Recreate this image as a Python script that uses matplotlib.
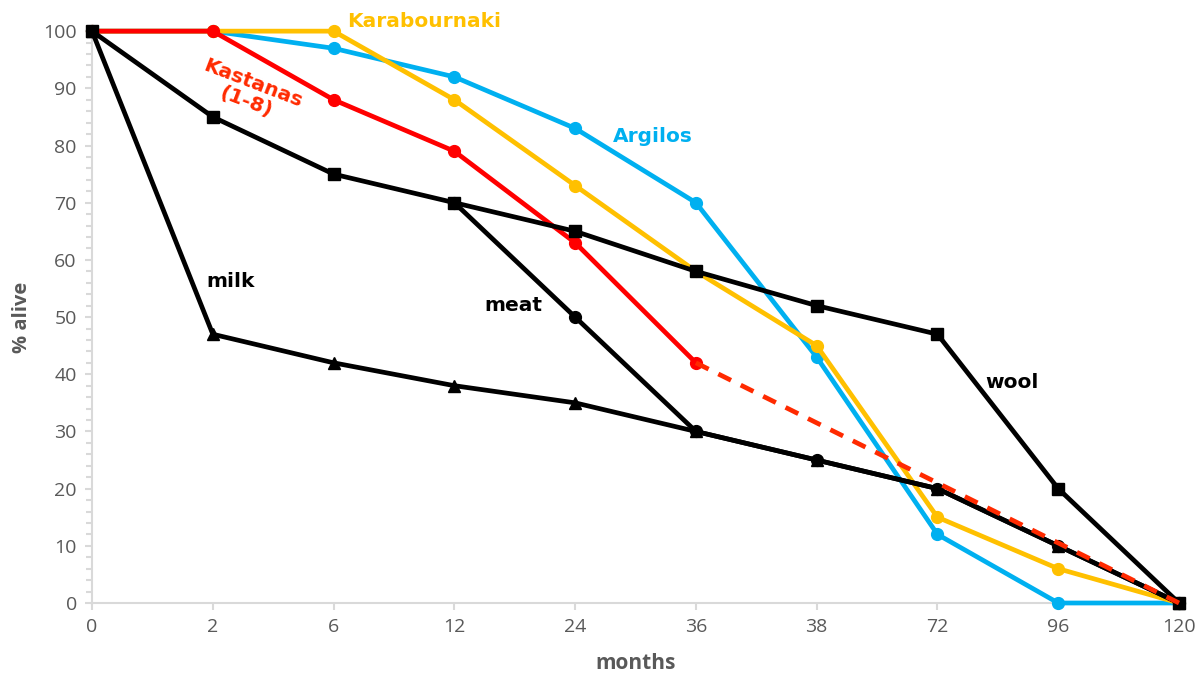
import matplotlib
matplotlib.use("Agg")
from matplotlib import pyplot as plt
import numpy as np

months = ["0", "2", "6", "12", "24", "36", "38", "72", "96", "120"]

argilos = [100, 100, 97, 92, 83, 70, 43, 12, 0, 0]
karabournaki = [100, 100, 100, 88, 73, 58, 45, 15, 6, 0]
kastanas = [100, 100, 88, 79, 63, 42]
kastanas_ext = [42, 0]          # dashed continuation 36 -> 120
milk = [100, 47, 42, 38, 35, 30, 25, 20, 10, 0]
meat = [70, 50, 30, 25, 20, 10, 0]   # from 12 months on
wool = [100, 85, 75, 70, 65, 58, 52, 47, 20, 0]

BLUE, YELLOW, RED = "#00B0F0", "#FFC000", "#FF0000"
GREY = "#595959"
x = np.arange(len(months))

fig = plt.figure(figsize=(12, 6.77), dpi=100)
ax = fig.add_axes([0.0767, 0.1093, 0.9058, 0.8447])

lw = 3.4
ax.plot(x, argilos, color=BLUE, lw=lw, marker="o", ms=8.5, clip_on=False, zorder=3)
ax.plot(x, karabournaki, color=YELLOW, lw=lw, marker="o", ms=8.5, clip_on=False, zorder=4)
ax.plot(x[:6], kastanas, color=RED, lw=lw, marker="o", ms=8.5, clip_on=False, zorder=5)
ax.plot(x, milk, color="black", lw=lw, marker="^", ms=8.5, clip_on=False, zorder=6)
ax.plot(x[3:], meat, color="black", lw=lw, marker="o", ms=8.5, clip_on=False, zorder=6)
ax.plot(x, wool, color="black", lw=lw, marker="s", ms=9, clip_on=False, zorder=7)
ax.plot([x[5], x[-1]], kastanas_ext, color="#FF2A00", lw=lw, ls=(0, (3, 2.3)),
        clip_on=False, zorder=8)

ax.set_xlim(0, 9)
ax.set_ylim(0, 100)
ax.set_xticks(x)
ax.set_xticklabels(months)
ax.set_yticks(np.arange(0, 101, 10))
ax.set_yticks(np.arange(0, 101, 2), minor=True)

for s in ["top", "right"]:
    ax.spines[s].set_visible(False)
for s in ["left", "bottom"]:
    ax.spines[s].set_color("#d9d9d9")
    ax.spines[s].set_linewidth(1.5)
ax.tick_params(axis="both", which="major", color="#d9d9d9", width=1.5, length=5,
               labelsize=14, labelcolor=GREY, pad=6)
ax.tick_params(axis="y", which="minor", color="#d9d9d9", width=1.5, length=4)
ax.tick_params(axis="x", which="minor", length=0)
for lab in ax.get_xticklabels() + ax.get_yticklabels():
    lab.set_fontfamily("Open Sans")

ax.set_ylabel("% alive", fontsize=14.5, color=GREY, fontweight="bold", labelpad=8, fontfamily="Open Sans")
ax.set_xlabel("months", fontsize=15, color=GREY, fontweight="bold", labelpad=12, fontfamily="Open Sans")

lbl = dict(fontsize=14.5, fontweight="bold", fontfamily="DejaVu Sans")
ax.text(2.11, 101.7, "Karabournaki", color=YELLOW, ha="left", va="center", **lbl)
ax.text(1.3, 89.2, "Kastanas\n(1-8)", color="#FF2A00", ha="center", va="center",
        rotation=-21, linespacing=1.0, **lbl)
ax.text(4.64, 81.6, "Argilos", color=BLUE, ha="center", va="center", **lbl)
ax.text(1.15, 56.3, "milk", color="black", ha="center", va="center", **lbl)
ax.text(3.49, 52.1, "meat", color="black", ha="center", va="center", **lbl)
ax.text(7.62, 38.5, "wool", color="black", ha="center", va="center", **lbl)

fig.savefig("out.png", dpi=100)
